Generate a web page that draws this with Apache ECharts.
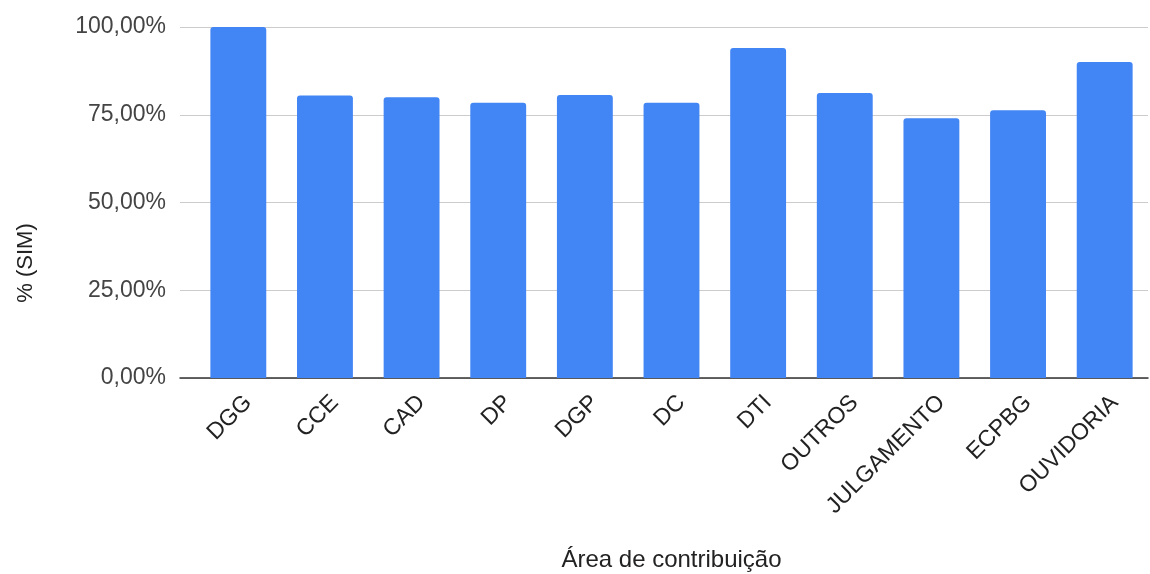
<!DOCTYPE html>
<html>
<head>
<meta charset="utf-8">
<script src="https://cdn.jsdelivr.net/npm/echarts@6/dist/echarts.min.js"></script>
<style>
  html, body { margin: 0; padding: 0; background: #fff; overflow: hidden; }
  #chart { width: 1150px; height: 574px; }
</style>
</head>
<body>
<div id="chart"></div>
<script>
// areas and share of "SIM" answers
var areas = ['DGG', 'CCE', 'CAD', 'DP', 'DGP', 'DC', 'DTI', 'OUTROS', 'JULGAMENTO', 'ECPBG', 'OUVIDORIA']
var simPct = [100, 80.5, 80.0, 78.4, 80.6, 78.4, 94.0, 81.2, 74.0, 76.3, 90.0]
var yTicks = [0, 25, 50, 75, 100]

var font = 'Liberation Sans, Arial, sans-serif'
var yMin = yTicks[0]
var yMax = yTicks[yTicks.length - 1]

var chart = echarts.init(document.getElementById('chart'))

chart.setOption({
    animation: false,
    // grid 0 carries gridlines + baseline (they start a bit left of the bars), grid 1 carries the bars
    grid: [
        { left: 180, right: 2, top: 27, height: 351, containLabel: false, outerBoundsMode: 'none' },
        { left: 195, right: 2, top: 27, height: 351, containLabel: false, outerBoundsMode: 'none' }
    ],
    xAxis: [{
        gridIndex: 0,
        type: 'value',
        min: 0,
        max: 1,
        axisLine: { show: true, onZero: false, lineStyle: { color: '#333', width: 1.5 } },
        axisTick: { show: false },
        axisLabel: { show: false },
        splitLine: { show: false }
    }, {
        gridIndex: 1,
        type: 'category',
        data: areas,
        name: 'Área de contribuição',
        nameLocation: 'middle',
        nameGap: 170,
        nameTextStyle: { fontFamily: font, fontSize: 24, color: '#222' },
        axisLine: { show: false },
        axisTick: { show: false },
        axisLabel: {
            rotate: 45,
            interval: 0,
            margin: 31,
            padding: [0, -14, 0, 0],
            fontFamily: font,
            fontSize: 23,
            color: '#222'
        }
    }],
    yAxis: [{
        gridIndex: 0,
        type: 'value',
        min: yMin,
        max: yMax,
        interval: 25,
        axisLine: { show: false },
        axisTick: { show: false },
        splitLine: { lineStyle: { color: '#ccc', width: 1 } },
        axisLabel: {
            margin: 14,
            fontFamily: font,
            fontSize: 23,
            color: '#444',
            formatter: function (v) { return v.toFixed(2).replace('.', ',') + '%' }
        }
    }, {
        gridIndex: 1,
        type: 'value',
        min: yMin,
        max: yMax,
        show: false
    }],
    graphic: [{
        type: 'text',
        x: 26,
        y: 263,
        rotation: Math.PI / 2,
        style: {
            text: '% (SIM)',
            font: '22px ' + font,
            fill: '#222',
            align: 'center',
            verticalAlign: 'middle'
        }
    }],
    series: [{
        type: 'bar',
        xAxisIndex: 1,
        yAxisIndex: 1,
        data: simPct,
        barWidth: '64.5%',
        itemStyle: { color: '#4285F4', borderRadius: [3, 3, 0, 0] }
    }]
})
</script>
</body>
</html>
